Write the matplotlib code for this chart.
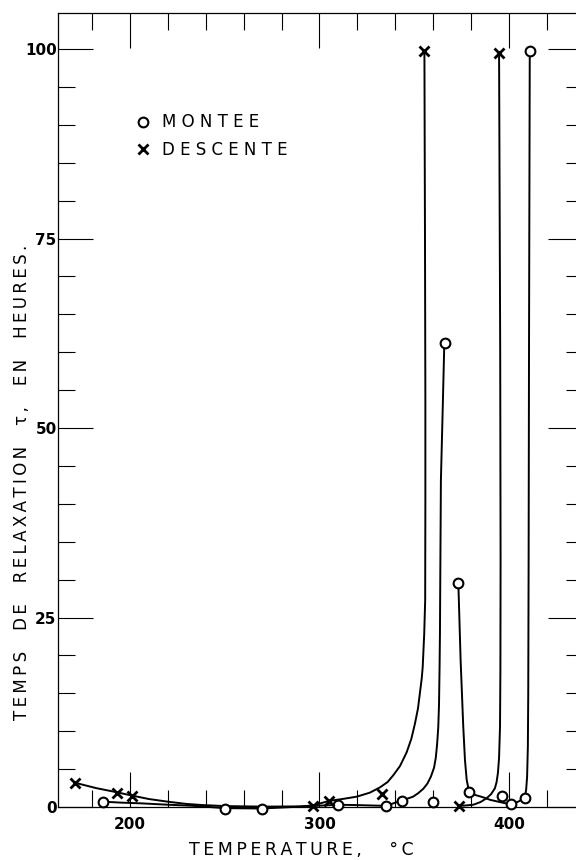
import matplotlib
matplotlib.use('Agg')
import matplotlib.pyplot as plt
from matplotlib.ticker import MultipleLocator

# measured points (temperature in C, relaxation time in hours)
montee_T = [186, 250, 269.5, 310, 335, 343.4, 360, 366, 373.3, 378.7, 396.6, 401, 408.4, 411]
montee_tau = [0.7, -0.2, -0.25, 0.3, 0.15, 0.85, 0.7, 61.2, 29.6, 2.0, 1.45, 0.45, 1.2, 99.8]
descente_T = [171, 193.3, 201.2, 296.5, 305.1, 332.8, 355.2, 373.6, 394.8]
descente_tau = [3.2, 1.9, 1.45, 0.15, 0.8, 1.75, 99.8, 0.15, 99.5]

# hand drawn curves
desc_a_T = [171, 182, 193.3, 201.2, 210, 220, 230, 238, 250, 270, 290, 296.5, 305, 312, 319.6,
            326.6, 332, 336, 339, 342.5, 346, 348.5, 350.4, 352, 353, 354, 354.5, 355.3, 355.8,
            355.9, 355.9, 355.7, 355.4]
desc_a_tau = [3.2, 2.5, 1.93, 1.5, 1.05, 0.7, 0.4, 0.26, 0.12, 0.05, 0.08, 0.2, 0.8, 1.05, 1.36,
              1.89, 2.6, 3.3, 4.2, 5.4, 7.2, 9.0, 11, 13, 15, 17, 18.5, 22.9, 27.3,
              40, 53.7, 75, 99.7]
mont_a_T = [186, 195, 206, 220, 232.4, 250, 269.5, 290, 310, 320, 335, 343.4, 349.4, 352, 354.8,
            357, 358.8, 360.5, 361.4, 362.1, 362.7, 363.1, 363.4, 363.6, 363.7, 364.1, 365, 365.9]
mont_a_tau = [0.7, 0.58, 0.48, 0.3, 0.17, -0.15, -0.2, 0.05, 0.3, 0.25, 0.15, 0.85, 1.36, 1.8, 2.4,
              3.1, 4.0, 5.2, 6.5, 8.3, 10.5, 13.5, 18.5, 23, 27.3, 43.1, 52, 61.2]
mont_b_T = [373.3, 374.5, 375.9, 376.8, 377.7, 378.9, 382, 386.4, 390, 394.4, 398, 400.9, 404.9,
            408.4, 409.1, 409.6, 410, 410.2, 410.4, 410.6, 411]
mont_b_tau = [29.6, 19.4, 10.6, 6.2, 3.6, 2.1, 1.6, 1.28, 0.95, 0.7, 0.5, 0.4, 0.7, 1.23, 2.3,
              4.0, 8, 15, 32.6, 60, 99.8]
desc_b_T = [373.6, 377, 381.2, 385, 388.2, 390.6, 392.6, 393.5, 394.2, 394.8, 395.3, 395.5,
            395.6, 395.4, 394.8]
desc_b_tau = [0.15, 0.2, 0.3, 0.65, 1.15, 1.7, 2.47, 3.3, 4.5, 6.5, 10.6, 18, 32.6, 60, 99.5]

x_major = [200, 300, 400]
y_major = [0, 25, 50, 75, 100]


def spaced(text, sep='\u2009', gap='    '):
    return gap.join(sep.join(word) for word in text.split(' '))


fig = plt.figure(figsize=(5.76, 8.6), dpi=100)
ax = fig.add_axes([58 / 576, 1 - 807 / 860, (583 - 58) / 576, (807 - 13) / 860])

for T, tau in [(desc_a_T, desc_a_tau), (mont_a_T, mont_a_tau),
               (mont_b_T, mont_b_tau), (desc_b_T, desc_b_tau)]:
    ax.plot(T, tau, color='black', lw=1.4, clip_on=False, zorder=2)

m_o, = ax.plot(montee_T, montee_tau, 'o', mfc='white', mec='black', ms=7, mew=1.5,
               clip_on=False, zorder=3)
m_x, = ax.plot(descente_T, descente_tau, 'x', color='black', ms=7, mew=2,
               clip_on=False, zorder=3)

ax.set_xlim(162, 439.1)
ax.set_ylim(0, 104.75)
ax.set_xticks(x_major)
ax.set_yticks(y_major)
ax.xaxis.set_minor_locator(MultipleLocator(20))
ax.yaxis.set_minor_locator(MultipleLocator(5))
ax.tick_params(which='both', direction='in', top=True, right=True, labelsize=11, width=0.8)
ax.tick_params(which='major', length=25)
ax.tick_params(which='minor', length=12)
ax.tick_params(axis='y', pad=1)
ax.tick_params(axis='x', pad=7)
for lab in ax.get_xticklabels() + ax.get_yticklabels():
    lab.set_fontweight('bold')
for sp in ax.spines.values():
    sp.set_linewidth(0.9)

ax.legend([m_o, m_x], ['M O N T E E', 'D E S C E N T E'], loc='upper left',
          bbox_to_anchor=(0.136, 0.882), frameon=False, fontsize=12, handlelength=0.8,
          handletextpad=0.78, labelspacing=0.58, borderaxespad=0)

fig.text(22 / 576, 1 - 482 / 860, spaced('TEMPS DE RELAXATION τ, EN HEURES.'),
         rotation=90, ha='center', va='center', fontsize=12)
fig.text(301 / 576, 1 - 850 / 860, spaced('TEMPERATURE,', gap='') + '     °' + '\u2009C',
         ha='center', va='center', fontsize=12.5)

fig.savefig('out.png', dpi=100)
